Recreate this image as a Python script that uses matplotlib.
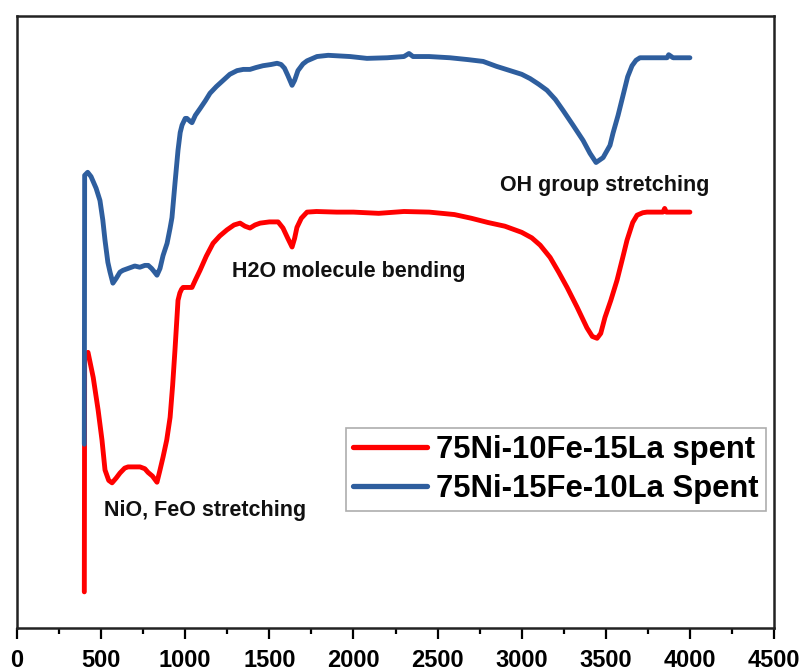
import matplotlib
matplotlib.use("Agg")
import matplotlib.pyplot as plt
from matplotlib.ticker import MultipleLocator, NullLocator

plt.rcParams['font.family'] = ['Liberation Sans', 'DejaVu Sans']

# FTIR spectra of spent catalysts (transmittance, arbitrary units)
wn_a = [400, 402, 422, 453, 482, 505, 523, 545, 565, 590, 612, 640, 660, 700, 731,
        760, 779, 805, 832, 850, 868, 890, 910, 925, 939, 957, 968, 978, 987, 1015, 1040,
        1060, 1088, 1125, 1165, 1205, 1248, 1290, 1326, 1355, 1385, 1415, 1445, 1500,
        1552, 1581, 1610, 1635, 1650, 1664, 1690, 1724, 1780, 1900, 2000, 2150, 2300,
        2450, 2600, 2700, 2800, 2900, 3000, 3060, 3110, 3169, 3220, 3270, 3329, 3388, 3420,
        3448, 3470, 3495, 3530, 3567, 3600, 3626, 3660, 3686, 3720, 3745, 3840, 3850, 3860,
        3950, 4000]
t_a = [5.9, 44.5, 45.0, 40.9, 35.6, 30.7, 25.8, 24.1, 23.7, 24.5, 25.3, 26.1, 26.3,
       26.3, 26.3, 26.0, 25.4, 24.8, 23.8, 25.8, 27.9, 30.7, 34.4, 39.6, 45.4, 53.5,
       54.7, 55.3, 55.6, 55.6, 55.6, 56.8, 58.4, 60.7, 62.8, 64.0, 65.0, 65.8, 66.1, 65.6,
       65.3, 65.8, 66.1, 66.3, 66.3, 65.3, 63.6, 62.2, 63.6, 65.4, 66.9, 67.9, 68.0,
       67.9, 67.9, 67.7, 68.0, 67.9, 67.5, 66.9, 66.2, 65.6, 64.6, 63.7, 62.5, 60.5, 58.1,
       55.6, 52.4, 49.0, 47.6, 47.3, 48.1, 50.7, 53.5, 56.8, 60.4, 63.3, 66.2, 67.4,
       67.8, 67.9, 67.9, 68.5, 67.9, 67.9, 67.9]

wn_b = [400, 402, 420, 440, 470, 493, 510, 523, 540, 553, 570, 590, 612, 630, 660,
        700, 730, 760, 780, 800, 815, 832, 850, 868, 892, 910, 921, 939, 957, 970,
        981, 1000, 1010, 1030, 1040, 1060, 1088, 1120, 1147, 1185, 1225, 1265, 1308,
        1345, 1385, 1420, 1462, 1510, 1546, 1570, 1590, 1610, 1635, 1650, 1670, 1700,
        1724, 1783, 1850, 1980, 2080, 2200, 2300, 2330, 2354, 2450, 2574, 2680, 2771,
        2850, 2931, 3000, 3050, 3100, 3150, 3200, 3246, 3305, 3365, 3406, 3442, 3484,
        3525, 3543, 3573, 3602, 3630, 3656, 3680, 3703, 3800, 3864, 3874, 3900, 4000]
t_b = [30.0, 73.9, 74.4, 73.7, 71.8, 69.8, 66.6, 63.3, 59.7, 58.1, 56.3, 57.1, 58.1,
       58.4, 58.7, 59.1, 58.9, 59.2, 59.2, 58.7, 58.2, 57.6, 58.7, 60.8, 62.8, 65.3,
       67.0, 72.6, 78.0, 80.9, 82.1, 83.2, 83.2, 82.7, 82.5, 83.7, 84.8, 86.1, 87.3,
       88.4, 89.4, 90.4, 91.0, 91.2, 91.2, 91.5, 91.8, 92.0, 92.2, 92.0, 91.4, 90.2,
       88.6, 89.4, 91.0, 92.1, 92.6, 93.3, 93.5, 93.3, 93.0, 93.1, 93.3, 93.8, 93.3,
       93.3, 93.1, 92.8, 92.5, 91.7, 91.0, 90.4, 89.7, 88.8, 87.8, 86.3, 84.5, 82.1,
       79.6, 77.5, 76.0, 76.8, 78.8, 80.8, 83.7, 86.9, 90.0, 91.8, 92.7, 93.1, 93.1,
       93.1, 93.6, 93.1, 93.1]

label_a = "75Ni-10Fe-15La spent"
label_b = "75Ni-15Fe-10La Spent"
color_a = "#ff0000"
color_b = "#2e5e9e"

fig = plt.figure(figsize=(8.03, 6.71), dpi=100)
ax = fig.add_axes([0.0212, 0.0641, 0.9427, 0.9128])

ax.plot(wn_a, t_a, color=color_a, lw=3.5, label=label_a, solid_capstyle='round',
        solid_joinstyle='round')
ax.plot(wn_b, t_b, color=color_b, lw=3.5, label=label_b, solid_capstyle='round',
        solid_joinstyle='round')

ax.set_xlim(0, 4500)
ax.set_ylim(0, 100)
ax.xaxis.set_major_locator(MultipleLocator(500))
ax.xaxis.set_minor_locator(MultipleLocator(250))
ax.yaxis.set_major_locator(NullLocator())
ax.yaxis.set_minor_locator(NullLocator())

for s in ax.spines.values():
    s.set_linewidth(1.8)
    s.set_color('#222222')

ax.tick_params(axis='x', which='major', direction='out', length=8, width=1.6,
               pad=7, labelsize=17)
ax.tick_params(axis='x', which='minor', direction='out', length=4, width=1.6)
for lbl in ax.get_xticklabels():
    lbl.set_fontweight('bold')

ann_kw = dict(fontsize=15.5, fontweight='bold', color='#111111', va='baseline', ha='left')
ax.text(2871, 71.3, "OH group stretching", **ann_kw)
ax.text(1278, 57.3, "H2O molecule bending", **ann_kw)
ax.text(517, 18.3, "NiO, FeO stretching", **ann_kw)

leg = ax.legend(loc='upper left', bbox_to_anchor=(0.4346, 0.327),
                prop={'size': 22.3, 'weight': 'bold'}, frameon=True, fancybox=False,
                edgecolor='#999999', handlelength=2.4, handletextpad=0.3,
                borderpad=0.22, labelspacing=0.3, borderaxespad=0)
leg.get_frame().set_linewidth(1.2)
for line in leg.get_lines():
    line.set_linewidth(3.8)

fig.savefig("out.png", dpi=100)
